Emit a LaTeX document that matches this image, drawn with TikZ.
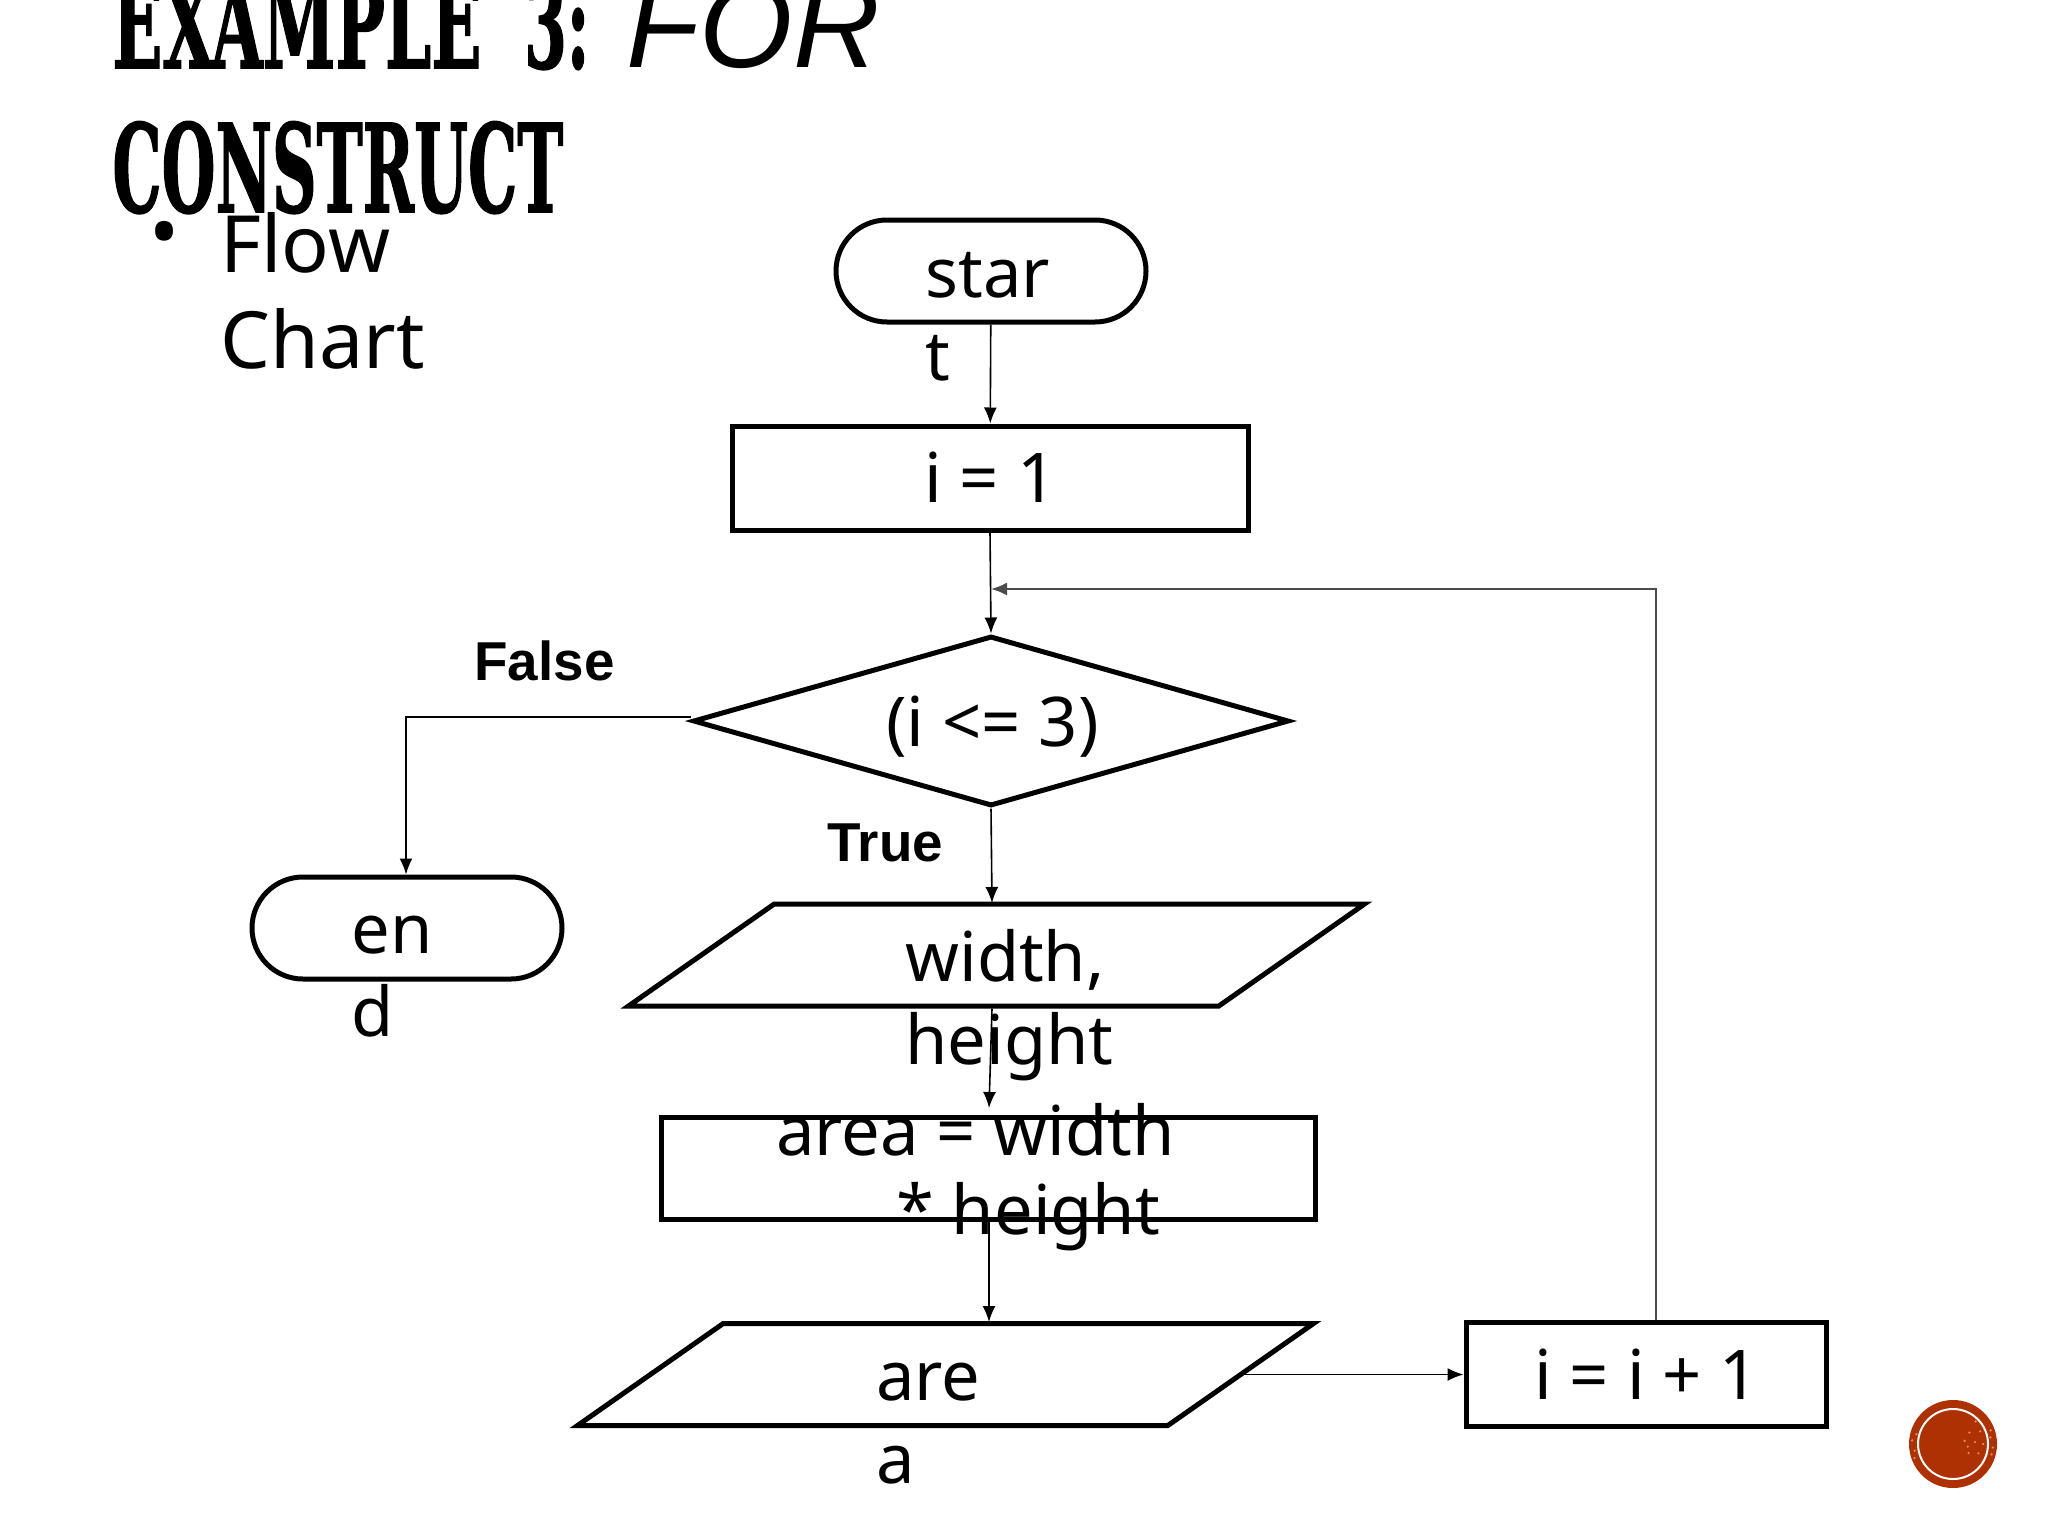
\documentclass[tikz,border=0pt]{standalone}
\usepackage{fontspec}
\usepackage{graphicx}
\usepackage{xcolor}
\usepackage{tikz}
\usetikzlibrary{shapes.geometric,shapes.misc,arrows.meta}
\setmainfont{Noto Sans}
\newfontfamily\labelfont{Liberation Sans}
\newfontfamily\slabfont[BoldFeatures={FakeBold=1.5}]{DejaVu Serif}
\definecolor{badge}{HTML}{AE3103}
\definecolor{speck}{HTML}{E8825A}
\begin{document}
\begin{tikzpicture}[x=0.5pt,y=-0.5pt,
    shape node/.style={draw=black,line width=2.5pt,inner sep=0pt},
    term node/.style={shape node,rounded rectangle,minimum width=155pt,minimum height=51pt},
    box node/.style={shape node,rectangle},
    data node/.style={shape node,trapezium,trapezium left angle=35,trapezium right angle=145,trapezium stretches body=true,minimum width=368pt},
    flow text/.style={inner sep=0pt,anchor=base west,align=left,font=\fontsize{34.3}{41.5}\selectfont},
    bold label/.style={inner sep=0pt,anchor=base west,font=\labelfont\bfseries\fontsize{27.4}{30}\selectfont},
    title text/.style={inner sep=0pt,anchor=base west,font=\slabfont\bfseries\fontsize{61}{70}\selectfont},
    link/.style={line width=0.8pt,-{Latex[length=8pt,width=6.5pt]}}]
  \useasboundingbox (0,0) rectangle (2048,1536);
  \node[title text] (title1) at (112,68) {\scalebox{0.54}[1]{EXAMPLE}};
  \node[title text] (title2) at (524,68) {\scalebox{0.5}[1]{3:}};
  \node[inner sep=0pt,anchor=base west] (title3) at (626,68) {\labelfont\itshape\fontsize{60}{70}\selectfont FOR};
  \node[title text] (title4) at (112,212) {\scalebox{0.507}[1]{CONSTRUCT}};
  \node[inner sep=0pt,font=\fontsize{40}{48}\selectfont] (bullet) at (165,241) {•};
  \node[flow text,font=\fontsize{39.5}{48}\selectfont] (flow) at (220,368) {Flow\\Chart};

  \node[term node] (start) at (991,271) {};
  \node[box node,minimum width=258pt,minimum height=52pt] (init) at (990,478) {};
  \node[shape node,diamond,minimum width=298pt,minimum height=85pt] (cond) at (991,721) {};
  \node[term node] (end) at (407,928) {};
  \node[data node] (input) at (996.5,955) {\rule{0pt}{51pt}};
  \node[box node,minimum width=327pt,minimum height=51pt] (calc) at (988,1168) {};
  \node[data node] (output) at (945.5,1374.5) {\rule{0pt}{51pt}};
  \node[box node,minimum width=180pt,minimum height=52pt] (inc) at (1646,1374.5) {};

  \coordinate (loop) at (1656,589);
  \coordinate (join) at (991,589);
  \coordinate (bend) at (406,717);
  \coordinate (inhit) at (992,903);
  \coordinate (intop) at (989,1108);
  \coordinate (outtop) at (989,1322);
  \coordinate (outright) at (1241,1374.5);

  \path
    (start) edge[link] (init)
    (init.south) edge[link] (cond.north)
    (cond.south) edge[link] (inhit)
    (inhit |- input.south) edge[link] (intop)
    (calc.south -| outtop) edge[link] (outtop)
    (outright) edge[link] (inc.west);
  \draw[link] (cond.west |- bend) -- (bend) -- (end.north -| bend);
  \draw[link,line width=1pt,draw=black!70] (inc.north -| loop) -- (loop) -- (join);

  \node[flow text] (starttext) at (925,380) {star\\t};
  \node[flow text] (inittext) at (924,502) {i = 1};
  \node[flow text] (condtext) at (886,746) {(i <= 3)};
  \node[flow text] (endtext) at (351,1036) {en\\d};
  \node[flow text] (inputtext) at (905,1064) {width,\\height};
  \node[flow text,font=\fontsize{34.3}{39.5}\selectfont] (calctext) at (776,1234) {area = width\\\hspace*{60pt}* height};
  \node[flow text] (outputtext) at (876,1483) {are\\a};
  \node[flow text] (inctext) at (1534,1399) {i = i + 1};
  \node[bold label] (falsetext) at (474,680) {False};
  \node[bold label] (truetext) at (827,861) {True};

  \node[circle,fill=badge,minimum size=44pt,inner sep=0pt] (badge) at (1953,1444) {};
  \draw[white,line width=1pt] (badge) circle (35);
  \foreach \a/\r in {-10/38,5/40,170/39,185/41,195/38,20/27,-5/22,-25/30,10/15,-35/20,0/30,-15/12,30/18,-45/32,15/40,-20/40,160/41}
    \fill[speck] (badge) ++(\a:\r) circle (1.3);
\end{tikzpicture}
\end{document}
